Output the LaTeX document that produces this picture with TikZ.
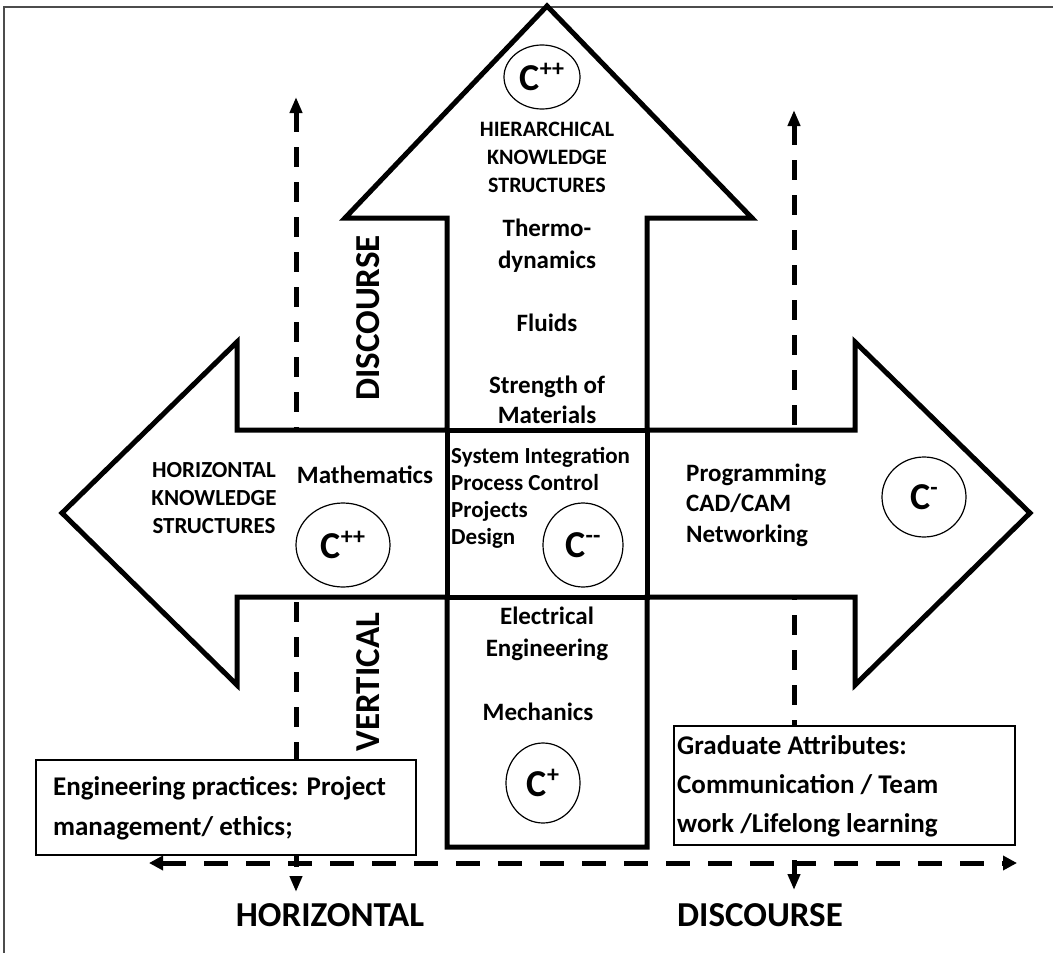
\documentclass[tikz,border=0pt]{standalone}
\usepackage{fontspec}
\setmainfont{Carlito}
\usetikzlibrary{shapes.geometric,arrows.meta}
\newcommand{\Cmark}[1]{{\fontsize{38}{38}\selectfont\bfseries C}\raisebox{14pt}{\fontsize{24}{24}\selectfont\bfseries #1}}
\newcommand{\fs}[2]{\fontsize{#1}{#2}\selectfont\bfseries}
\begin{document}
\begin{tikzpicture}[x=1pt,y=-1pt,
  body/.style={font=\fs{22}{28}, align=center, inner sep=0pt},
  lbody/.style={body, align=left, anchor=west},
  big/.style={font=\fs{35}{35}, inner sep=0pt},
  cbox/.style={draw, line width=1.3pt, fill=white},
  cell/.style={ellipse, draw, line width=1.2pt, inner sep=0pt},
  vdash/.style={line width=5pt, dash pattern=on 20pt off 15pt, {Triangle[length=16pt,width=12pt]}-{Triangle[length=16pt,width=12pt]}},
  hdash/.style={line width=5pt, dash pattern=on 24pt off 18pt, {Triangle[length=14pt,width=14pt]}-{Triangle[length=14pt,width=14pt]}},
  crossline/.style={line width=5pt, line join=miter}
]
\useasboundingbox (0,0) rectangle (1053,953);
% frame
\draw[line width=1.6pt, black!70] (4,953) -- (4,7) -- (1053,7);
% dashed guide arrows
\coordinate (lt) at (296,97);
\coordinate (lb) at (296,892);
\coordinate (rt) at (794,110);
\coordinate (rb) at (794,890);
\coordinate (hl) at (149,863);
\coordinate (hr) at (1017,863);
\draw[vdash] (lt) -- (lb);
\draw[vdash] (rt) -- (rb);
% cross of arrows
\draw[crossline, fill=white]
  (547,6) -- (752,218) -- (647,218) -- (647,430) -- (855,430) -- (855,342)
  -- (1030,513) -- (855,685) -- (855,597) -- (647,597) -- (647,847)
  -- (447,847) -- (447,597) -- (237,597) -- (237,685) -- (62,513)
  -- (237,342) -- (237,430) -- (447,430) -- (447,218) -- (345,218) -- cycle;
\draw[crossline] (447,430) rectangle (647,597);
% boxes
\draw[cbox] (36,760) rectangle (416,855);
\draw[cbox] (674,726) rectangle (1015,845);
\draw[hdash] (hl) -- (hr);
% ellipses
\node[cell, minimum width=76pt, minimum height=64pt] (ctop) at (542,77) {\Cmark{++}};
\node[cell, minimum width=94pt, minimum height=84pt] (cleft) at (343,545) {\Cmark{++}};
\node[cell, minimum width=80pt, minimum height=84pt] (cmid) at (583,545) {\Cmark{-{}-}};
\node[cell, minimum width=84pt, minimum height=80pt] (cright) at (924,497) {\Cmark{-}};
\node[cell, minimum width=74pt, minimum height=80pt] (cbot) at (543,783) {\Cmark{+}};
% texts in the upward arrow
\node[body] (hks) at (547,157) {HIERARCHICAL\\KNOWLEDGE\\STRUCTURES};
\node[body, font=\fs{25}{32}] (thermo) at (547,246) {Thermo-\\dynamics};
\node[body, font=\fs{25}{30}] (fluids) at (547,323) {Fluids};
\node[body, font=\fs{25}{30}] (strength) at (547,400) {Strength of\\Materials};
% left arm
\node[body, font=\fs{23}{28}] (horks) at (214,498) {HORIZONTAL\\KNOWLEDGE\\STRUCTURES};
\node[body, font=\fs{25}{28}] (math) at (365,475) {Mathematics};
% centre
\node[lbody, font=\fs{23}{27}] (centre) at (451,498) {System Integration\\Process Control\\Projects\\Design};
% right arm
\node[lbody, font=\fs{25}{30.5}] (rightlist) at (686,505) {Programming\\CAD/CAM\\Networking};
% downward part
\node[body, font=\fs{25}{32}] (elec) at (547,634) {Electrical\\Engineering};
\node[body, font=\fs{25}{30}] (mech) at (538,712) {Mechanics};
% rotated labels
\node[big, rotate=90] (disc1) at (368,318) {DISCOURSE};
\node[big, rotate=90] (vert) at (368,682) {VERTICAL};
% bottom labels
\node[big] (horiz) at (330,915) {HORIZONTAL};
\node[big] (disc2) at (760,915) {DISCOURSE};
% box texts
\node[lbody, font=\fs{27}{40}] (engp) at (53,808) {Engineering practices: Project\\management/ ethics;};
\node[lbody, font=\fs{27}{39}] (grad) at (677,786) {Graduate Attributes:\\Communication / Team\\work /Lifelong learning};
\end{tikzpicture}
\end{document}
